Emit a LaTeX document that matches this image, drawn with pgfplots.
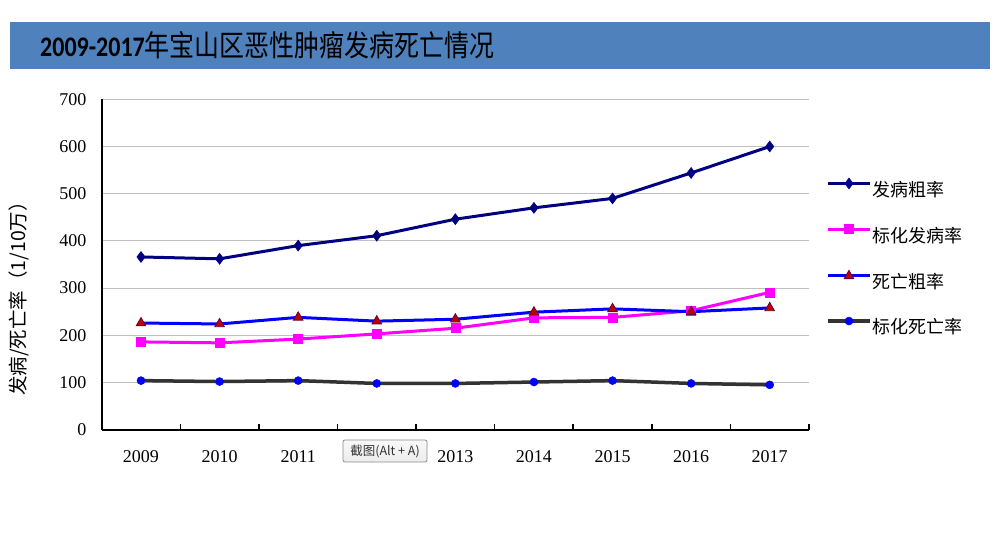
\documentclass[border=0pt]{standalone}
\usepackage{fontspec}
\setmainfont{Liberation Serif}
\newfontfamily\cjk{Noto Sans CJK SC}
\newfontfamily\titlefont{Carlito}
\usepackage{graphicx}
\usepackage{pgfplots}
\pgfplotsset{compat=1.18}
\definecolor{barblue}{HTML}{4F81BD}
\definecolor{navyline}{HTML}{000080}
\definecolor{magline}{HTML}{FF00FF}
\definecolor{blueline}{HTML}{0000FF}
\definecolor{trired}{HTML}{C00000}
\definecolor{tridark}{HTML}{660033}
\definecolor{grayline}{HTML}{333333}
\definecolor{gridgray}{HTML}{C0C0C0}

\pgfplotstableread{
x y
0 366
1 362
2 390
3 411
4 446
5 470
6 490
7 544
8 600
}\incraw
\pgfplotstableread{
x y
0 186
1 184
2 192
3 203
4 215
5 237
6 238
7 252
8 291
}\incstd
\pgfplotstableread{
x y
0 226
1 224
2 238
3 230
4 234
5 249
6 256
7 250
8 258
}\deathraw
\pgfplotstableread{
x y
0 104
1 102
2 104
3 98
4 98
5 101
6 104
7 98
8 95
}\deathstd

\begin{document}
\begin{tikzpicture}[x=1pt,y=1pt]
\path[use as bounding box, fill=white] (0pt,0pt) rectangle (999pt,538pt);
\fill[barblue] (10pt,469pt) rectangle (990pt,516pt);
\node[anchor=west, inner sep=0pt] at (40pt,492.5pt) {\scalebox{1}[1.18]{\titlefont\bfseries\fontsize{24}{28}\selectfont 2009-2017\cjk\mdseries\fontsize{25}{28}\selectfont 年宝山区恶性肿瘤发病死亡情况}};
\begin{axis}[
  at={(101.7pt,108.3pt)}, anchor=south west, scale only axis,
  width=707.3pt, height=330.4pt,
  xmin=-0.5, xmax=8.5, ymin=0, ymax=700,
  axis x line=bottom, axis y line=left,
  axis line style={black, line width=2pt, -},
  xtick={0,1,2,3,4,5,6,7,8},
  xticklabels={2009,2010,2011,2012,2013,2014,2015,2016,2017},
  ytick={0,100,200,300,400,500,600,700},
  ymajorgrids, grid style={draw=gridgray, line width=1pt},
  major tick length=0pt,
  extra x ticks={-0.5,0.5,1.5,2.5,3.5,4.5,5.5,6.5,7.5,8.5},
  extra x tick labels={},
  extra x tick style={major tick length=6pt, tick align=inside, tick style={black, line width=1.5pt}, xmajorgrids=false},
  tick label style={font=\fontsize{18}{20}\selectfont},
  /pgf/number format/assume math mode=true,
  yticklabel style={anchor=east, inner sep=0pt, xshift=-15pt},
  xticklabel style={anchor=north, inner sep=0pt, yshift=-21pt},
  ylabel={\cjk 发病/死亡率（1/10万）},
  ylabel style={at={(axis description cs:-0.1170,0.4107)}, anchor=center, rotate=0, font=\fontsize{19.5}{21}\selectfont},
  legend style={draw=none, fill=none, at={(1,1)}, anchor=north west, xshift=17pt, yshift=-78.5pt, inner sep=0pt, row sep=26.8pt, column sep=1pt, nodes={inner sep=0pt}, font=\cjk\fontsize{18}{20}\selectfont},
  legend cell align=left,
  legend image code/.code={\draw[mark repeat=2, mark phase=2, #1] plot coordinates {(0pt,6pt)(21pt,6pt)(42pt,6pt)};},
]
\addplot[navyline, line width=3pt, mark=diamond*, mark size=5.5pt, mark options={fill=navyline, draw=navyline, line width=0.5pt}] table {\incraw};
\addlegendentry{发病粗率}
\addplot[magline, line width=3pt, mark=square*, mark size=4.5pt, mark options={fill=magline, draw=magline, line width=0.5pt}] table {\incstd};
\addlegendentry{标化发病率}
\addplot[blueline, line width=3pt, mark=triangle*, mark size=5.5pt, mark options={fill=trired, draw=tridark, line width=0.8pt}] table {\deathraw};
\addlegendentry{死亡粗率}
\addplot[grayline, line width=3.5pt, mark=*, mark size=4pt, mark options={fill=blueline, draw=blueline, line width=0.5pt}] table {\deathstd};
\addlegendentry{标化死亡率}
\end{axis}
\shade[top color=white!95!gray, bottom color=white!85!gray, draw=gray!90, rounded corners=2pt, line width=0.8pt] (343pt,76pt) rectangle (427pt,98pt);
\node[inner sep=0pt, text=black!80] at (385pt,87pt) {\cjk\fontsize{12.5}{14}\selectfont 截图(Alt + A)};
\end{tikzpicture}
\end{document}
